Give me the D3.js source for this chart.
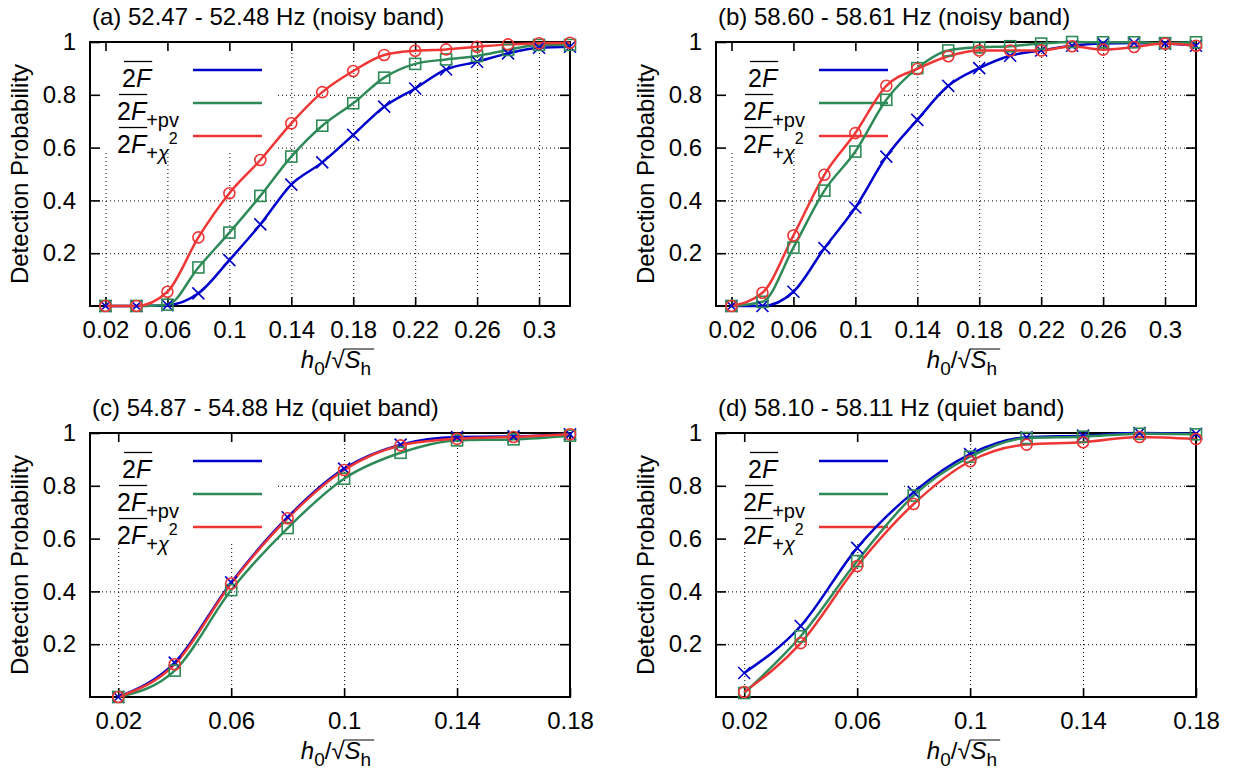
<!DOCTYPE html>
<html>
<head>
<meta charset="utf-8">
<script src="https://cdn.jsdelivr.net/npm/d3@7"></script>
<style>
body { margin: 0; background: #fff; }
text { font-family: "Liberation Sans", Arial, sans-serif; fill: #000; }
.grid line { stroke: #000; stroke-width: 1; stroke-dasharray: 1,3; }
.grid .domain { display: none; }
.axis .domain { display: none; }
.axis line { stroke: #000; stroke-width: 1.6; }
.axis text { font-size: 24px; font-family: "Liberation Sans", Arial, sans-serif; }
</style>
</head>
<body>
<svg id="chart" width="1244" height="778"></svg>
<script>
// x values (h0 / sqrt(Sh))
var hNoisy = [0.02, 0.04, 0.06, 0.08, 0.10, 0.12, 0.14, 0.16, 0.18, 0.20, 0.22, 0.24, 0.26, 0.28, 0.30, 0.32];
var hQuiet = [0.02, 0.04, 0.06, 0.08, 0.10, 0.12, 0.14, 0.16, 0.18];

var xTicksNoisy = [0.02, 0.06, 0.1, 0.14, 0.18, 0.22, 0.26, 0.3];
var xTicksQuiet = [0.02, 0.06, 0.1, 0.14, 0.18];
var yTicks = [0.2, 0.4, 0.6, 0.8, 1];

var colors = ["#0000cc", "#2e8b57", "#f03535"];

// (a) 52.47 - 52.48 Hz
var a2F    = [0, 0, 0.003, 0.048, 0.174, 0.309, 0.460, 0.544, 0.648, 0.755, 0.824, 0.896, 0.925, 0.957, 0.978, 0.982];
var a2Fpv  = [0, 0, 0.005, 0.146, 0.278, 0.417, 0.566, 0.683, 0.768, 0.865, 0.917, 0.934, 0.947, 0.970, 0.989, 0.989];
var a2Fchi = [0, 0, 0.054, 0.260, 0.427, 0.553, 0.692, 0.810, 0.890, 0.951, 0.967, 0.972, 0.982, 0.991, 0.995, 0.997];

// (b) 58.60 - 58.61 Hz
var b2F    = [0, 0, 0.054, 0.219, 0.373, 0.566, 0.705, 0.834, 0.901, 0.948, 0.968, 0.986, 0.994, 0.996, 0.994, 0.986];
var b2Fpv  = [0, 0.016, 0.221, 0.437, 0.585, 0.781, 0.901, 0.968, 0.980, 0.984, 0.994, 1.000, 0.999, 0.999, 0.996, 0.999];
var b2Fchi = [0, 0.050, 0.267, 0.497, 0.655, 0.834, 0.898, 0.946, 0.968, 0.968, 0.968, 0.984, 0.971, 0.981, 0.994, 0.986];

// (c) 54.87 - 54.88 Hz
var c2F    = [0, 0.130, 0.434, 0.681, 0.865, 0.956, 0.985, 0.987, 0.995];
var c2Fpv  = [0, 0.100, 0.405, 0.640, 0.827, 0.925, 0.972, 0.976, 0.990];
var c2Fchi = [0, 0.124, 0.430, 0.677, 0.860, 0.953, 0.978, 0.985, 0.995];

// (d) 58.10 - 58.11 Hz
var d2F    = [0.091, 0.269, 0.565, 0.776, 0.920, 0.984, 0.990, 1.000, 0.997];
var d2Fpv  = [0.015, 0.230, 0.515, 0.763, 0.910, 0.981, 0.986, 0.997, 0.995];
var d2Fchi = [0.019, 0.204, 0.496, 0.731, 0.893, 0.956, 0.965, 0.985, 0.977];

var panels = [
    { title: "(a) 52.47 - 52.48 Hz (noisy band)", left: 90, top: 42, h: hNoisy, xTicks: xTicksNoisy, xMax: 0.32, series: [a2F, a2Fpv, a2Fchi] },
    { title: "(b) 58.60 - 58.61 Hz (noisy band)", left: 716, top: 42, h: hNoisy, xTicks: xTicksNoisy, xMax: 0.32, series: [b2F, b2Fpv, b2Fchi] },
    { title: "(c) 54.87 - 54.88 Hz (quiet band)", left: 90, top: 433, h: hQuiet, xTicks: xTicksQuiet, xMax: 0.18, series: [c2F, c2Fpv, c2Fchi] },
    { title: "(d) 58.10 - 58.11 Hz (quiet band)", left: 716, top: 433, h: hQuiet, xTicks: xTicksQuiet, xMax: 0.18, series: [d2F, d2Fpv, d2Fchi] }
];

var width = 480, height = 264;
var svg = d3.select("#chart");
svg.append("rect").attr("width", 1244).attr("height", 778).attr("fill", "#fff");

panels.forEach(drawPanel);

function drawPanel(p) {
    var g = svg.append("g").attr("transform", "translate(" + p.left + "," + p.top + ")");

    var xScale = d3.scaleLinear().domain([0.01, p.xMax]).range([0, width]);
    var yScale = d3.scaleLinear().domain([0, 1]).range([height, 0]);

    // dotted grid
    g.append("g").attr("class", "grid")
        .attr("transform", "translate(0," + height + ")")
        .call(d3.axisBottom(xScale).tickValues(p.xTicks).tickSize(-height).tickFormat(""));
    g.append("g").attr("class", "grid")
        .call(d3.axisLeft(yScale).tickValues([0.2, 0.4, 0.6, 0.8]).tickSize(-width).tickFormat(""));

    // opaque key area
    g.append("rect").attr("width", 186).attr("height", 110).attr("fill", "#fff");

    // border + mirrored inward ticks
    g.append("g").attr("class", "axis")
        .attr("transform", "translate(0," + height + ")")
        .call(d3.axisBottom(xScale).tickValues(p.xTicks).tickSizeInner(-9).tickSizeOuter(0)
            .tickPadding(15).tickFormat(d3.format("~g")));
    g.append("g").attr("class", "axis")
        .call(d3.axisTop(xScale).tickValues(p.xTicks).tickSizeInner(-9).tickSizeOuter(0).tickFormat(""));
    g.append("g").attr("class", "axis")
        .call(d3.axisLeft(yScale).tickValues(yTicks).tickSizeInner(-10).tickSizeOuter(0)
            .tickPadding(14).tickFormat(d3.format("~g")));
    g.append("g").attr("class", "axis")
        .attr("transform", "translate(" + width + ",0)")
        .call(d3.axisRight(yScale).tickValues(yTicks).tickSizeInner(-10).tickSizeOuter(0).tickFormat(""));

    g.append("rect").attr("width", width).attr("height", height)
        .attr("fill", "none").attr("stroke", "#000").attr("stroke-width", 2);

    // title
    g.append("text").attr("x", 2).attr("y", -17).style("font-size", "24px").text(p.title);

    // y label
    g.append("text")
        .attr("transform", "translate(-70," + (height / 2) + ") rotate(-90)")
        .attr("text-anchor", "middle").attr("dy", "0.35em")
        .style("font-size", "24px")
        .text("Detection Probability");

    // x label: h0 / sqrt(Sh)
    var xl = g.append("text").attr("y", height + 62).style("font-size", "24px");
    xl.append("tspan").style("font-style", "italic").text("h");
    xl.append("tspan").attr("dy", 7).style("font-size", "19px").text("0");
    xl.append("tspan").attr("dy", -7).text("/\u221A");
    xl.append("tspan").style("font-style", "italic").text("S");
    xl.append("tspan").attr("dy", 7).style("font-size", "19px").text("h");
    var xlw = xl.node().getComputedTextLength();
    var x0 = width / 2 + 6 - xlw / 2;
    xl.attr("x", x0);
    var sqEnd = xl.node().getEndPositionOfChar(3).x;
    g.append("line").attr("x1", sqEnd - 1).attr("x2", x0 + xlw + 3)
        .attr("y1", height + 62 - 19).attr("y2", height + 62 - 19)
        .attr("stroke", "#000").attr("stroke-width", 1);

    // key
    [0, 1, 2].forEach(function (i) {
        var ly = 28 + i * 33;
        g.append("line").attr("x1", 103).attr("x2", 172).attr("y1", ly).attr("y2", ly)
            .attr("stroke", colors[i]).attr("stroke-width", 2.5);
        var tx = i === 0 ? 32 : 27, base = ly + 16.5;
        var t = g.append("text").attr("x", tx).attr("y", base).style("font-size", "25px");
        t.append("tspan").text("2");
        t.append("tspan").style("font-style", "italic").text("F");
        var w = t.node().getComputedTextLength();
        g.append("line").attr("x1", tx + 2).attr("x2", tx + w + 1).attr("y1", base - 25).attr("y2", base - 25)
            .attr("stroke", "#000").attr("stroke-width", 1.3);
        if (i === 1) {
            t.append("tspan").attr("dy", 7).style("font-size", "20px").text("+pv");
        } else if (i === 2) {
            t.append("tspan").attr("dy", 7).style("font-size", "20px").text("+");
            t.append("tspan").style("font-size", "20px").style("font-style", "italic").text("\u03C7");
            t.append("tspan").attr("dy", -16).style("font-size", "16px").text("2");
        }
    });

    // curves
    var line = d3.line()
        .curve(d3.curveMonotoneX)
        .x(function (d, i) { return xScale(p.h[i]); })
        .y(function (d) { return yScale(d); });

    p.series.forEach(function (s, k) {
        g.append("path").datum(s).attr("d", line)
            .attr("fill", "none").attr("stroke", colors[k]).attr("stroke-width", 2.5);
    });

    // markers
    var pts = function (s) { return s.map(function (v, i) { return [xScale(p.h[i]), yScale(v)]; }); };

    g.append("g").selectAll("path").data(pts(p.series[0])).enter().append("path")
        .attr("d", "M-6,-6L6,6M-6,6L6,-6")
        .attr("transform", function (d) { return "translate(" + d[0] + "," + d[1] + ")"; })
        .attr("stroke", colors[0]).attr("stroke-width", 1.6).attr("fill", "none");
    g.append("g").selectAll("rect").data(pts(p.series[1])).enter().append("rect")
        .attr("x", function (d) { return d[0] - 5.5; }).attr("y", function (d) { return d[1] - 5.5; })
        .attr("width", 11).attr("height", 11)
        .attr("stroke", colors[1]).attr("stroke-width", 1.6).attr("fill", "none");
    g.append("g").selectAll("circle").data(pts(p.series[2])).enter().append("circle")
        .attr("cx", function (d) { return d[0]; }).attr("cy", function (d) { return d[1]; })
        .attr("r", 5.5)
        .attr("stroke", colors[2]).attr("stroke-width", 1.6).attr("fill", "none");
}
</script>
</body>
</html>
